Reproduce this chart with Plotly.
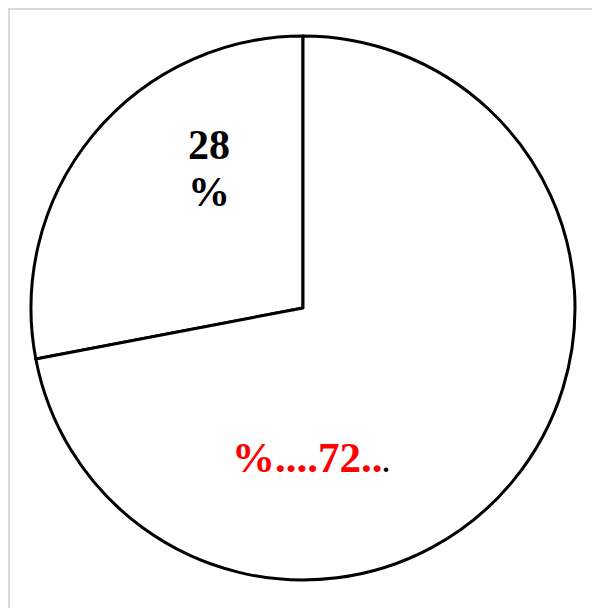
import plotly.graph_objects as go

labels = ["28%", "72%"]
values = [28, 72]
slice_colors = ["white", "white"]

W, H = 600, 608
OFF = 8  # page body offset
ml, mt = 23, 28
pw = ph = 544
mr = W - ml - pw
mb = H - mt - ph

def px(x):
    return (x - OFF - ml) / pw

def py(y):
    return (H - mb - (y - OFF)) / ph

first_share = values[0] / sum(values)

fig = go.Figure(
    go.Pie(
        labels=labels,
        values=values,
        sort=False,
        direction="clockwise",
        rotation=-360 * first_share,
        marker=dict(colors=slice_colors, line=dict(color="black", width=3)),
        textinfo="none",
        hoverinfo="none",
        showlegend=False,
    )
)

font_main = dict(family="Liberation Serif", size=42, color="black")
fig.add_annotation(x=px(209), y=py(145), xref="paper", yref="paper",
                   text="<b>%d</b>" % values[0], showarrow=False, font=font_main,
                   xanchor="center", yanchor="middle")
fig.add_annotation(x=px(209), y=py(192), xref="paper", yref="paper",
                   text="<b>%</b>", showarrow=False, font=font_main,
                   xanchor="center", yanchor="middle")
fig.add_annotation(
    x=px(311), y=py(457), xref="paper", yref="paper",
    text="<b><span style='color:red'>%....{}..</span><span style='font-size:28px;color:black'>.</span></b>".format(values[1]),
    showarrow=False, font=dict(family="Liberation Serif", size=43, color="red"),
    xanchor="center", yanchor="middle",
)

# light gray frame edges
fig.add_shape(type="line", xref="paper", yref="paper", x0=px(8), x1=px(620), y0=py(9), y1=py(9),
              line=dict(color="#d9d9d9", width=2))
fig.add_shape(type="line", xref="paper", yref="paper", x0=px(9), x1=px(9), y0=py(9), y1=py(620),
              line=dict(color="#d9d9d9", width=2))

fig.update_layout(
    width=W, height=H,
    margin=dict(l=ml, r=mr, t=mt, b=mb),
    paper_bgcolor="white",
    plot_bgcolor="white",
)

fig.write_html("out.html")
